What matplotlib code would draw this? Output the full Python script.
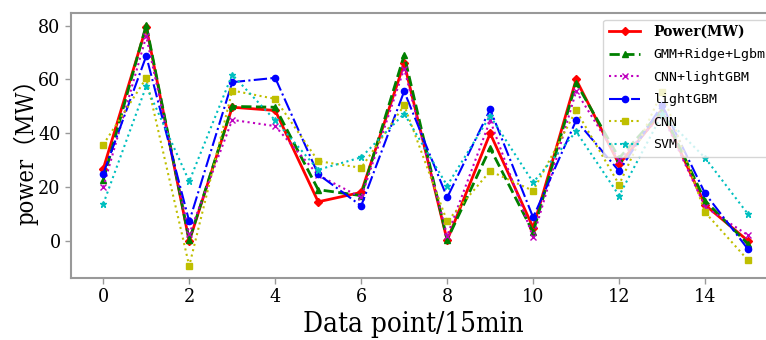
import matplotlib
matplotlib.use("Agg")
import matplotlib.pyplot as plt
from matplotlib.font_manager import FontProperties

x_points = list(range(16))
power = [26.8, 79.5, 0.0, 49.7, 48.5, 14.6, 18.1, 66.0, 0.3, 40.0, 5.0, 60.0, 28.5, 48.0, 13.4, 0.1]
gmm = [22.7, 80.2, 0.3, 50.0, 49.7, 19.1, 16.9, 69.0, 0.5, 34.5, 3.3, 58.8, 30.8, 48.5, 15.0, -1.1]
cnn_lgbm = [20.0, 76.0, 2.6, 45.0, 42.7, 24.5, 16.2, 64.0, 2.0, 44.8, 1.4, 55.6, 30.0, 47.0, 12.7, 2.2]
lgbm = [25.0, 68.7, 7.3, 59.0, 60.6, 24.8, 13.1, 55.6, 16.2, 48.9, 8.8, 44.8, 26.0, 50.5, 17.7, -3.0]
cnn = [35.8, 60.5, -9.2, 55.9, 52.8, 29.7, 27.2, 50.4, 7.3, 26.0, 18.7, 48.5, 21.0, 55.4, 10.7, -7.1]
svm = [13.8, 57.5, 22.2, 61.8, 44.8, 26.5, 31.1, 47.3, 20.6, 46.5, 21.8, 40.7, 16.9, 47.0, 30.9, 10.0]
labels = ["Power(MW)", "GMM+Ridge+Lgbm", "CNN+lightGBM", "lightGBM", "CNN", "SVM"]

fig = plt.figure(figsize=(7.66, 3.40), dpi=100)
ax = fig.add_axes([0.0927, 0.1824, 0.926, 0.7794])

ax.plot(x_points, power, color='r', linestyle='-', marker='D', markersize=4, linewidth=2, label=labels[0])
ax.plot(x_points, gmm, color='g', linestyle='--', marker='^', markersize=5, linewidth=2, label=labels[1])
ax.plot(x_points, cnn_lgbm, color='m', linestyle=':', marker='x', markersize=4, linewidth=1.5, label=labels[2])
ax.plot(x_points, lgbm, color='b', linestyle='-.', marker='o', markersize=4.5, linewidth=1.5, label=labels[3])
ax.plot(x_points, cnn, color='y', linestyle=':', marker='s', markersize=5, linewidth=1.5, label=labels[4])
ax.plot(x_points, svm, color='c', linestyle=':', marker='*', markersize=5, linewidth=1.5, label=labels[5])

ax.set_xticks(range(0, 15, 2))
ax.set_yticks(range(0, 81, 20))

tick_font = FontProperties(family=['DejaVu Serif'], stretch='condensed', size=14)
for t in ax.get_xticklabels() + ax.get_yticklabels():
    t.set_fontproperties(tick_font)

ax.set_xlabel("Data point/15min", fontproperties=FontProperties(family=['DejaVu Serif'], stretch='condensed', size=20), labelpad=4)
ax.xaxis.set_label_coords(0.482, -0.125)
ax.set_ylabel("power（MW）", fontproperties=FontProperties(family=['DejaVu Serif', 'Noto Sans CJK SC'], stretch='condensed', size=17), labelpad=0)

for sp in ax.spines.values():
    sp.set_color('#999999')
    sp.set_linewidth(1.5)
ax.tick_params(color='#999999', length=4, width=1)

leg = ax.legend(loc='upper right', bbox_to_anchor=(0.996, 1.0), handlelength=2.4, handletextpad=1.0,
                labelspacing=0.72, borderaxespad=0.5,
                prop=FontProperties(family=['DejaVu Sans Mono'], size=9.5))
leg.get_frame().set_edgecolor('#cccccc')
leg.get_texts()[0].set_fontproperties(FontProperties(family=['DejaVu Serif'], weight='bold', size=10))

fig.savefig("out.png", dpi=100)
